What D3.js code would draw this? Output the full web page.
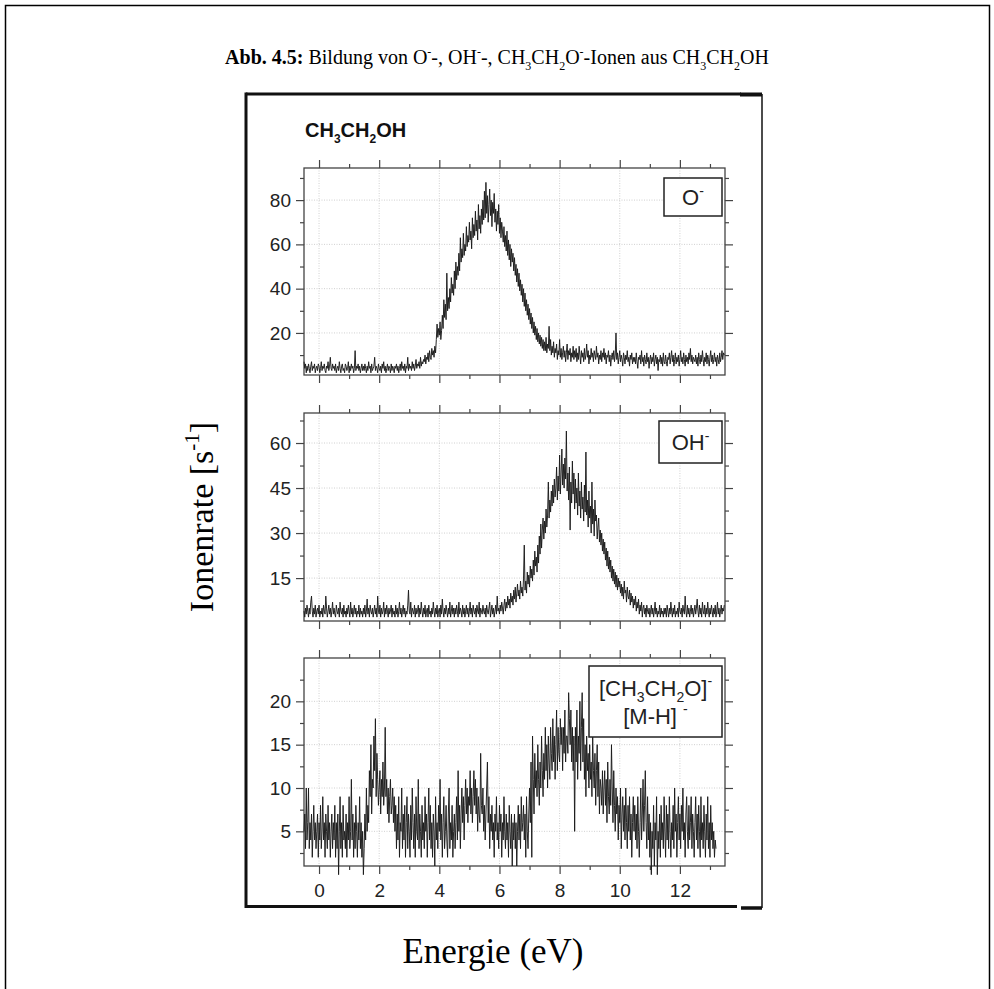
<!DOCTYPE html>
<html>
<head>
<meta charset="utf-8">
<title>Abb. 4.5</title>
<script src="https://cdn.jsdelivr.net/npm/d3@7"></script>
<style>
	body { margin: 0; background: #fff; }
	svg { display: block; }
	.sans { font-family: "Liberation Sans", Arial, Helvetica, sans-serif; fill: #222; }
	.serif { font-family: "Liberation Serif", "Times New Roman", Times, serif; fill: #000; }
</style>
</head>
<body>
<svg id="chart" width="994" height="989"></svg>
<script>
// energy grid of the read-off points (eV)
var energy_start = -0.5;
var energy_step = 0.025;

var x_ticks = [0, 2, 4, 6, 8, 10, 12];
var x_minor_ticks = [1, 3, 5, 7, 9, 11, 13];

// O- rate, one row per eV starting at -0.5
var o_minus_rate = [
	7,4,6,2,5,3,6,4,2,5,7,3,5,4,6,2,4,5,3,6,5,2,4,7,3,5,4,6,3,2,5,4,7,3,5,9,4,3,6,4,
	5,3,6,2,4,5,3,7,4,2,5,6,3,4,2,6,5,3,4,7,2,5,3,6,4,5,2,4,12,3,5,4,6,3,5,2,4,6,3,5,
	3,6,4,2,5,3,7,4,5,2,6,3,4,5,9,3,5,4,2,6,4,3,5,2,6,4,7,3,5,2,4,6,3,5,4,2,6,3,5,4,
	2,5,4,6,3,5,2,4,6,3,7,4,5,3,6,2,5,4,9,3,6,4,5,3,7,4,6,3,5,8,4,6,5,7,4,9,5,7,6,8,
	7,10,6,9,8,11,7,12,9,8,13,10,12,9,14,11,17,24,18,22,19,25,17,21,28,22,35,27,33,26,47,30,36,31,40,34,45,38,42,37,
	48,40,52,44,50,46,56,48,63,52,58,54,65,55,60,57,68,59,64,61,70,62,66,58,72,63,69,64,75,66,71,62,78,67,73,65,76,69,80,71,
	84,72,88,74,82,70,78,85,73,80,68,79,74,83,70,76,66,75,69,78,65,72,63,70,66,61,68,59,64,57,66,55,62,53,60,50,58,52,56,48,
	54,46,51,43,49,41,47,39,44,37,42,34,40,32,38,30,35,28,33,26,31,24,29,22,27,20,25,19,23,17,22,16,20,15,19,14,18,13,17,12,
	16,12,18,11,15,13,23,12,17,10,14,11,16,9,13,11,15,8,12,10,17,9,13,8,11,14,9,12,7,11,15,8,12,10,13,7,11,9,14,8,
	12,9,13,7,11,8,14,10,6,12,9,11,7,13,8,10,15,9,12,6,10,8,13,9,11,7,12,10,8,14,9,11,6,10,8,12,7,11,9,13,
	8,11,6,10,9,12,7,10,5,9,11,8,12,7,10,20,8,11,6,9,12,7,10,8,5,11,9,6,10,8,12,7,9,5,10,8,11,6,9,7,
	9,6,11,7,4,9,8,10,6,12,7,9,5,10,8,6,11,7,9,4,8,10,6,9,7,11,5,8,10,6,9,3,8,7,10,6,9,5,11,7,
	6,10,7,5,9,8,11,6,9,12,7,10,5,8,11,6,9,7,10,5,8,12,7,9,6,11,8,5,10,7,9,6,11,8,13,7,10,6,9,8,
	7,10,6,9,5,11,8,6,10,7,12,8,5,9,7,11,6,10,8,5,9,12,7,10,6,8,11,7,9,5,10,8,6,11,7,9,12,8,11,10
];

// OH- rate
var oh_minus_rate = [
	4,2,5,3,6,4,2,5,3,7,9,4,2,5,3,6,2,4,5,3,6,2,4,3,5,2,6,4,3,9,5,2,4,6,3,5,2,4,7,3,
	5,3,2,6,4,3,5,2,7,4,3,5,2,6,3,4,2,5,3,6,4,2,7,3,5,2,4,6,3,5,2,4,3,6,2,5,3,4,2,5,
	3,6,2,4,8,3,5,2,6,4,3,5,2,4,6,3,5,2,9,4,3,6,2,5,3,4,7,2,5,3,6,4,2,5,3,4,6,2,5,3,
	4,2,6,3,5,2,4,7,3,5,2,4,6,3,5,2,4,3,6,11,4,3,7,2,5,4,3,6,2,5,3,4,6,2,5,3,7,4,2,5,
	3,6,2,4,5,2,6,3,4,2,5,3,7,4,2,5,3,6,2,4,5,2,6,3,8,4,2,5,3,6,4,2,5,3,7,2,4,6,3,5,
	2,5,3,6,4,2,7,3,5,4,2,6,3,5,2,4,6,3,5,2,4,7,3,5,2,6,4,3,5,2,6,4,3,7,2,5,4,3,6,4,
	3,5,2,6,4,3,5,7,2,4,6,3,5,2,4,6,3,9,4,5,3,6,4,7,5,3,6,8,4,7,5,9,6,8,5,10,7,9,6,11,
	8,12,7,10,13,9,11,8,14,10,12,9,15,26,11,14,10,17,13,16,12,19,15,18,14,21,16,24,19,22,17,26,20,29,23,33,25,31,35,28,
	34,30,38,32,36,47,35,41,37,44,39,46,40,48,42,45,52,41,49,44,56,43,50,58,46,53,45,55,48,64,44,50,41,52,31,47,40,54,43,50,
	38,48,40,45,36,50,39,44,35,47,38,42,34,46,37,57,36,41,32,44,35,39,30,47,33,38,29,41,34,36,28,32,35,27,31,26,30,24,28,23,
	27,21,25,19,24,18,22,17,21,15,19,14,18,13,17,12,16,11,15,12,14,10,13,9,12,8,14,10,11,7,12,9,8,11,6,10,7,9,5,8,
	6,9,4,7,5,8,3,6,4,7,2,5,6,3,5,2,6,4,3,5,2,4,6,3,5,2,4,7,3,5,2,4,3,6,2,5,3,4,2,5,
	3,5,2,6,4,2,5,3,7,4,2,5,3,6,2,4,3,5,2,7,4,3,5,2,6,4,3,9,4,2,6,3,5,2,4,6,3,5,2,4,
	6,3,5,8,4,2,6,3,5,2,7,4,3,6,2,5,3,7,4,2,5,3,6,4,2,5,3,6,2,4,7,3,5,2,4,6,3,5,4,6
];

// [CH3CH2O]- / [M-H]- rate, recorded up to about 13.2 eV
var mh_minus_rate = [
	5,7,3,10,4,6,10,3,6,4,7,2,5,8,4,6,3,5,7,2,6,4,8,3,5,9,4,6,2,7,5,3,8,4,6,2,5,7,3,6,
	4,8,2,6,3,7,0,5,9,3,6,2,8,4,5,3,7,2,6,4,9,3,5,11,4,7,2,6,3,8,5,2,6,4,9,3,6,2,5,0,
	3,7,4,10,5,8,6,12,9,15,7,11,10,16,12,18,9,14,11,8,10,12,7,11,9,13,8,10,17,9,11,7,10,6,9,11,7,8,10,6,
	9,5,8,3,7,4,9,2,6,5,10,3,7,4,8,2,6,9,3,7,5,2,8,4,10,6,3,7,2,9,5,4,11,3,7,5,2,8,4,6,
	3,9,5,7,2,6,10,4,8,3,6,2,7,5,1,9,4,6,3,8,5,11,4,7,2,6,9,3,5,8,4,2,7,10,3,6,4,8,2,5,
	7,3,6,9,4,12,5,8,3,7,10,6,9,4,8,11,7,10,6,9,8,12,7,10,6,9,12,8,11,7,10,5,9,7,6,14,8,7,10,5,
	8,4,7,10,13,6,9,3,7,5,8,4,6,2,7,5,9,4,6,3,8,5,7,2,6,4,9,5,3,7,4,6,2,8,5,3,7,1,6,4,
	7,3,6,1,5,8,4,7,3,9,5,6,8,4,7,2,9,5,3,7,10,6,13,2,16,11,7,14,10,12,9,15,11,8,13,10,16,12,9,14,
	11,17,12,15,10,16,13,11,17,14,12,18,13,16,11,15,19,12,17,14,13,18,15,17,12,17,14,19,13,16,16,14,21,18,15,19,13,17,12,16,
	5,17,13,19,11,16,14,20,12,17,21,13,18,11,15,9,16,12,14,10,15,11,13,9,16,12,10,14,8,12,15,9,13,7,11,10,8,12,7,10,
	12,8,11,6,13,9,7,11,8,15,10,6,12,8,5,10,7,9,4,8,6,10,3,7,9,5,8,4,10,6,3,8,5,9,4,7,2,6,9,5,
	8,4,7,3,9,5,2,6,10,4,7,11,5,8,12,6,3,9,4,7,2,6,0,5,3,8,1,6,4,9,0,5,3,7,2,8,4,6,3,9,
	5,2,8,4,7,3,9,5,2,6,4,8,3,10,5,7,2,6,9,4,7,3,8,5,10,4,6,2,7,9,5,3,8,4,6,9,3,7,5,2,
	6,9,4,7,3,8,5,2,9,4,6,3,8,5,2,7,4,9,3,6,2,8,4,6,3,5,2,4,3
];

var o_minus_ticks = [20, 40, 60, 80];
var o_minus_minor = [10, 30, 50, 70, 90];
var oh_minus_ticks = [15, 30, 45, 60];
var oh_minus_minor = [7.5, 22.5, 37.5, 52.5, 67.5];
var mh_minus_ticks = [5, 10, 15, 20];
var mh_minus_minor = [2.5, 7.5, 12.5, 17.5, 22.5];

(function (d3) {

	var svg = d3.select('#chart');

	var plot_left = 304;
	var plot_right = 725;
	var sans = '"Liberation Sans", Arial, Helvetica, sans-serif';

	var x = d3.scaleLinear().domain([-0.5, 13.5]).range([plot_left, plot_right]);

	/**
	 * Appends text made of normal / sup / sub / bold pieces as tspans.
	 */
	function rich_text(sel, parts, size) {
		var offset = 0;
		parts.forEach(function (p) {
			var kind = p[1] || 'n';
			var target = kind === 'sup' ? -0.42 * size : (kind === 'sub' ? 0.28 * size : 0);
			var t = sel.append('tspan').text(p[0]).attr('dy', target - offset);
			if (kind === 'sup' || kind === 'sub') t.attr('font-size', Math.round(size * 0.62));
			if (kind === 'b') t.attr('font-weight', 'bold');
			offset = target;
		});
		return sel;
	}

	// outer page frame
	svg.append('rect')
		.attr('x', 5.5).attr('y', 5.5)
		.attr('width', 984).attr('height', 1000)
		.attr('fill', 'none').attr('stroke', '#000').attr('stroke-width', 1.5);

	// caption
	rich_text(svg.append('text').attr('class', 'serif')
		.attr('x', 497).attr('y', 64).attr('text-anchor', 'middle').attr('font-size', 20), [
		['Abb. 4.5:', 'b'], [' Bildung von O'], ['-', 'sup'], ['-, OH'], ['-', 'sup'], ['-, CH'], ['3', 'sub'],
		['CH'], ['2', 'sub'], ['O'], ['-', 'sup'], ['-Ionen aus CH'], ['3', 'sub'], ['CH'], ['2', 'sub'], ['OH']
	], 20);

	// inner (scanned) figure frame
	var frame = svg.append('g').attr('stroke', '#111').attr('fill', 'none');
	frame.append('line').attr('x1', 246).attr('x2', 246).attr('y1', 92.5).attr('y2', 908).attr('stroke-width', 3);
	frame.append('line').attr('x1', 246).attr('x2', 741).attr('y1', 94).attr('y2', 94).attr('stroke-width', 3);
	frame.append('line').attr('x1', 740).attr('x2', 762).attr('y1', 94.5).attr('y2', 94.5).attr('stroke-width', 4);
	frame.append('line').attr('x1', 762).attr('x2', 762).attr('y1', 94).attr('y2', 908).attr('stroke-width', 1.5);
	frame.append('line').attr('x1', 246).attr('x2', 737).attr('y1', 906.5).attr('y2', 906.5).attr('stroke-width', 3);
	frame.append('line').attr('x1', 741).attr('x2', 762).attr('y1', 908).attr('y2', 908).attr('stroke-width', 3.5);

	// molecule label
	var mol = svg.append('text').attr('class', 'sans')
		.attr('x', 305).attr('y', 137).attr('font-size', 20).attr('font-weight', 'bold').style('fill', '#111');
	rich_text(mol, [['CH'], ['3', 'sub'], ['CH'], ['2', 'sub'], ['OH']], 20);

	var panels = [
		{ values: o_minus_rate, major: o_minus_ticks, minor: o_minus_minor, domain: [1, 94.5], top: 168, bottom: 375,
			box: [664, 178, 58, 38], legend: [[['O'], ['-', 'sup']]] },
		{ values: oh_minus_rate, major: oh_minus_ticks, minor: oh_minus_minor, domain: [0.7, 70], top: 413, bottom: 621,
			box: [659, 421, 63, 42], legend: [[['OH'], ['-', 'sup']]] },
		{ values: mh_minus_rate, major: mh_minus_ticks, minor: mh_minus_minor, domain: [1, 25], top: 658, bottom: 866,
			box: [589, 666, 133, 71], legend: [[['[CH'], ['3', 'sub'], ['CH'], ['2', 'sub'], ['O]'], ['-', 'sup']], [['[M-H] '], ['-', 'sup']]] }
	];

	function add_axis(g, axis, values, size, transform, labels) {
		var a = g.append('g')
			.attr('transform', transform)
			.call(axis.tickValues(values).tickSize(size).tickPadding(5)
				.tickFormat(labels ? d3.format('d') : ''));
		a.select('.domain').remove();
		a.attr('font-family', sans).attr('font-size', 19);
		a.selectAll('line').attr('stroke', '#444').attr('stroke-width', 1.2);
		a.selectAll('text').attr('fill', '#222');
		return a;
	}

	panels.forEach(function (p, index) {
		var y = d3.scaleLinear().domain(p.domain).range([p.bottom, p.top]);
		var g = svg.append('g');
		var last = index === panels.length - 1;

		// dotted grid
		g.selectAll('line.gx').data(x_ticks).enter().append('line')
			.attr('class', 'gx')
			.attr('x1', x).attr('x2', x)
			.attr('y1', p.top).attr('y2', p.bottom);
		g.selectAll('line.gy').data(p.major).enter().append('line')
			.attr('class', 'gy')
			.attr('x1', plot_left).attr('x2', plot_right)
			.attr('y1', y).attr('y2', y);
		g.selectAll('line.gx, line.gy')
			.attr('stroke', '#c4c4c4').attr('stroke-width', 0.8).attr('stroke-dasharray', '1,1.5');

		// ticks on all four sides
		add_axis(g, d3.axisLeft(y), p.major, 8, 'translate(' + plot_left + ',0)', true);
		add_axis(g, d3.axisLeft(y), p.minor, 4, 'translate(' + plot_left + ',0)', false);
		add_axis(g, d3.axisRight(y), p.major, 8, 'translate(' + plot_right + ',0)', false);
		add_axis(g, d3.axisRight(y), p.minor, 4, 'translate(' + plot_right + ',0)', false);
		add_axis(g, d3.axisTop(x), x_ticks, 8, 'translate(0,' + p.top + ')', false);
		add_axis(g, d3.axisTop(x), x_minor_ticks, 4, 'translate(0,' + p.top + ')', false);
		add_axis(g, d3.axisBottom(x), x_ticks, 8, 'translate(0,' + p.bottom + ')', last)
			.selectAll('text').attr('dy', '0.95em');
		add_axis(g, d3.axisBottom(x), x_minor_ticks, 4, 'translate(0,' + p.bottom + ')', false);

		g.append('rect')
			.attr('x', plot_left).attr('y', p.top)
			.attr('width', plot_right - plot_left).attr('height', p.bottom - p.top)
			.attr('fill', 'none').attr('stroke', '#444').attr('stroke-width', 1.3);

		var line = d3.line()
			.x(function (d, i) { return x(energy_start + i * energy_step); })
			.y(function (d) { return y(d); });

		g.append('path')
			.datum(p.values)
			.attr('d', line)
			.attr('fill', 'none')
			.attr('stroke', '#1a1a1a')
			.attr('stroke-width', 0.95)
			.attr('stroke-linejoin', 'round');

		// legend box
		g.append('rect')
			.attr('x', p.box[0]).attr('y', p.box[1])
			.attr('width', p.box[2]).attr('height', p.box[3])
			.attr('fill', '#fff').attr('stroke', '#222').attr('stroke-width', 1.5);

		var line_gap = 28;
		var first = p.box[1] + p.box[3] / 2 + 8 - (p.legend.length - 1) * line_gap / 2;
		p.legend.forEach(function (parts, k) {
			var t = g.append('text').attr('class', 'sans')
				.attr('x', p.box[0] + p.box[2] / 2).attr('y', first + k * line_gap)
				.attr('text-anchor', 'middle').attr('font-size', 22);
			rich_text(t, parts, 22);
		});
	});

	// axis titles
	rich_text(svg.append('text').attr('class', 'serif')
		.attr('transform', 'translate(213,517) rotate(-90)')
		.attr('text-anchor', 'middle').attr('font-size', 34), [
		['Ionenrate [s'], ['-1', 'sup'], [']']
	], 34);

	svg.append('text').attr('class', 'serif')
		.attr('x', 493).attr('y', 963)
		.attr('text-anchor', 'middle').attr('font-size', 35)
		.text('Energie (eV)');

}(d3));
</script>
</body>
</html>
